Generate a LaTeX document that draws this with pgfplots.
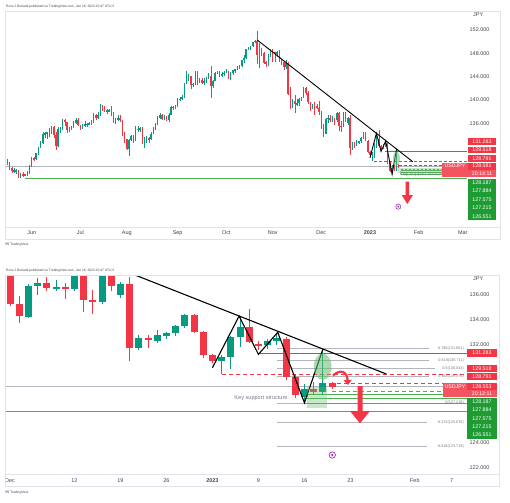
\documentclass[border=0pt]{standalone}
\usepackage{fontspec}
\setmainfont{Liberation Sans}
\usepackage{pgfplots}
\pgfplotsset{compat=1.18}
\usepackage{pgfplotstable}
\usetikzlibrary{arrows.meta}
\definecolor{tvgreen}{HTML}{089981}
\definecolor{tvred}{HTML}{F23645}
\definecolor{lblgreen}{HTML}{1E9C33}
\definecolor{framec}{HTML}{E0E3EB}
\definecolor{txt}{HTML}{434651}
\definecolor{fibgray}{HTML}{B2B5BE}
\definecolor{fibtxt}{HTML}{787B86}
\definecolor{supgreen}{HTML}{4CAF50}
\definecolor{lightg}{HTML}{66BB6A}
\definecolor{purp}{HTML}{9C27B0}

\pgfplotstableread{
i o h l c
-11 129.5 129.9 128.9 129.3
-10 129.3 129.4 128.0 128.3
-9 128.3 128.5 127.5 127.8
-8 127.8 128.4 127.5 127.9
-7 127.8 128.2 127.4 127.9
-6 127.9 128.0 126.6 126.9
-5 126.9 127.5 126.7 127.3
-4 127.3 127.6 126.8 127.1
-3 127.2 127.3 126.9 127.1
-2 127.1 127.9 126.9 127.6
-1 127.6 128.9 127.4 128.7
0 128.7 130.2 128.6 130.0
1 130.0 130.2 129.5 129.9
2 129.9 131.0 129.8 130.9
3 130.9 132.0 130.6 131.9
4 131.9 132.9 131.7 132.6
5 132.6 134.5 132.5 134.2
6 134.2 134.6 133.5 134.3
7 134.3 134.6 133.4 134.4
8 134.3 135.2 133.6 134.4
9 134.4 135.6 134.2 135.4
10 135.4 135.6 133.5 134.0
11 134.0 134.6 131.5 132.2
12 132.2 135.4 132.0 135.0
13 135.0 135.4 134.4 135.1
14 135.1 136.7 134.9 136.6
15 136.6 136.7 135.6 136.2
16 136.2 136.3 134.3 134.9
17 134.9 135.4 134.6 135.2
18 135.2 135.6 134.8 135.4
19 135.4 136.4 135.2 136.1
20 136.1 136.9 135.9 136.6
21 136.6 136.9 135.5 135.7
22 135.7 135.8 134.8 135.2
23 135.2 135.9 135.0 135.7
24 135.7 136.4 135.3 135.9
25 135.8 136.1 135.4 135.9
26 135.9 136.3 135.7 136.0
27 136.0 136.5 135.7 136.1
28 136.1 137.7 136.0 137.4
29 137.4 137.6 136.6 136.9
30 136.9 137.9 136.8 137.4
31 137.4 139.4 137.3 138.9
32 138.9 139.1 138.2 138.6
33 138.6 138.9 137.9 138.1
34 138.1 138.5 137.6 138.2
35 138.1 138.4 137.9 138.2
36 138.2 138.9 137.3 137.4
37 137.4 137.9 136.0 136.1
38 136.1 136.9 135.9 136.6
39 136.6 137.5 136.4 137.0
40 137.0 137.4 136.3 136.5
41 136.5 136.6 133.9 134.2
42 134.2 134.5 132.6 133.3
43 133.3 133.4 131.5 131.6
44 131.6 133.4 130.4 133.1
45 133.1 134.0 132.9 133.8
46 133.8 134.0 132.7 133.0
47 133.0 135.5 132.9 135.0
48 134.9 135.6 134.6 135.0
49 135.0 135.4 134.5 135.1
50 135.1 135.3 132.5 132.9
51 132.9 133.6 131.7 133.0
52 133.0 133.8 132.6 133.4
53 133.4 133.6 132.6 133.3
54 133.3 134.6 133.2 134.2
55 134.2 135.3 134.1 135.0
56 135.0 136.0 134.8 135.9
57 135.9 137.2 135.8 137.0
58 137.0 137.7 136.7 137.5
59 137.5 137.6 136.5 136.8
60 136.8 137.4 136.6 137.1
61 137.1 137.3 136.4 136.6
62 136.6 137.7 136.2 137.5
63 137.5 139.0 137.4 138.8
64 138.7 139.0 138.3 138.8
65 138.8 139.1 138.4 138.9
66 138.9 140.3 138.8 140.2
67 140.1 140.5 139.9 140.2
68 140.2 140.8 140.0 140.5
69 140.5 143.0 140.4 142.8
70 142.8 145.0 142.7 144.0
71 144.0 144.5 143.3 144.1
72 144.1 144.2 141.9 142.6
73 142.6 143.0 142.2 142.8
74 142.8 144.9 142.6 144.6
75 144.6 144.9 142.6 143.2
76 143.2 143.8 143.0 143.5
77 143.5 143.7 142.7 142.9
78 142.9 143.7 142.6 143.2
79 143.2 143.9 143.0 143.7
80 143.7 144.7 143.6 144.1
81 144.1 145.9 140.3 142.4
82 142.4 143.5 142.0 143.3
83 143.3 144.8 143.2 144.7
84 144.7 144.9 144.4 144.8
85 144.8 144.9 143.9 144.2
86 144.2 144.8 144.0 144.4
87 144.4 144.9 144.2 144.7
88 144.7 145.4 144.6 144.8
89 144.8 144.9 143.6 144.1
90 144.1 144.8 143.5 144.6
91 144.6 145.2 144.3 145.1
92 145.1 145.4 144.7 145.3
93 145.3 145.8 145.2 145.7
94 145.7 146.0 145.3 145.8
95 145.8 146.9 145.7 146.9
96 146.9 147.7 146.4 147.2
97 147.2 148.8 147.1 148.7
98 148.7 149.1 148.5 149.0
99 149.0 149.3 148.6 149.2
100 149.2 149.9 149.1 149.9
101 149.9 150.3 149.7 150.2
102 150.2 151.9 146.2 147.7
103 147.7 149.7 145.5 148.9
104 148.9 149.0 147.5 148.0
105 148.0 148.2 146.2 146.3
106 146.4 146.7 145.6 146.3
107 146.3 147.9 145.9 147.5
108 147.5 148.8 147.3 148.7
109 148.7 148.8 146.6 148.2
110 148.2 148.3 146.6 147.9
111 147.9 148.4 147.3 148.2
112 148.2 148.5 146.5 146.6
113 146.5 146.9 146.0 146.6
114 146.6 146.7 145.2 145.6
115 145.6 146.8 145.4 146.4
116 146.4 146.6 140.9 141.0
117 141.0 142.2 138.5 138.8
118 138.8 140.2 138.6 139.9
119 139.9 140.8 137.7 139.3
120 139.3 140.2 139.0 139.5
121 139.5 140.4 139.0 140.2
122 140.2 140.6 139.8 140.4
123 140.4 142.2 140.3 142.1
124 142.1 142.2 140.9 141.2
125 141.2 141.6 139.3 139.6
126 139.6 139.7 138.2 138.6
127 138.6 139.4 138.4 139.2
128 139.2 139.7 137.5 138.9
129 138.9 139.3 138.4 138.6
130 138.6 139.9 137.5 138.0
131 138.0 138.2 135.1 135.3
132 135.3 135.9 133.7 134.3
133 134.2 136.9 134.1 136.75
134 136.75 137.35 136.0 137.0
135 137.0 137.5 136.3 136.6
136 136.55 137.2 136.3 136.65
137 136.65 136.95 135.7 136.55
138 136.5 137.9 136.3 137.75
139 137.75 137.9 134.65 135.6
140 135.6 136.4 134.5 135.45
141 135.45 137.9 135.3 137.75
142 137.75 137.9 136.3 136.7
143 136.0 137.1 135.8 136.9
144 136.9 137.5 130.6 131.7
145 131.7 132.75 131.5 132.5
146 132.5 132.75 131.7 132.35
147 132.3 133.15 132.1 132.75
148 132.7 133.0 132.4 132.9
149 132.9 133.6 132.7 133.45
150 133.5 134.5 133.3 134.4
151 134.4 134.5 132.9 133.0
152 133.0 133.1 130.9 131.1
153 131.1 131.2 130.5 130.6
154 130.6 131.1 129.6 131.0
155 131.0 132.7 130.0 132.6
156 132.6 134.25 131.8 133.4
157 133.4 134.9 132.1 132.15
158 132.0 132.3 131.5 131.9
159 131.9 132.4 131.6 132.25
160 132.25 132.9 131.9 132.5
161 132.45 132.6 129.1 129.3
162 129.3 129.5 127.6 127.9
163 127.7 128.8 127.24 128.4
164 128.4 128.9 127.9 128.1
165 128.1 131.55 127.9 128.85
166 128.85 128.95 128.4 128.55
}\data

\tikzset{
  tl/.style={font=\fontsize{5.5}{6}\selectfont, text=txt},
  bx/.style={font=\fontsize{5.3}{6}\selectfont, text=white},
  fibl/.style={font=\fontsize{3.8}{4.5}\selectfont, text=fibtxt, anchor=east, inner sep=0pt},
}
\pgfplotsset{
  candle/.style={only marks, mark=*, mark options={draw opacity=0, fill opacity=0, scale=0.01}, forget plot},
}

\begin{document}
\begin{tikzpicture}
\useasboundingbox (0,0) rectangle (510bp,-503bp);
\fill[white] (0,0) rectangle (510bp,-503bp);

% ================= TOP CHART =================
\begin{axis}[
  at={(5bp,-227bp)}, anchor=south west, scale only axis,
  width=494bp, height=215.3bp,
  xmin=-12.08, xmax=211.35, ymin=118.23, ymax=155.14,
  axis line style={draw=none}, major tick length=0pt,
  xtick={0,22,43,66,88,109,131,153,175,195},
  xticklabels={Jun,Jul,Aug,Sep,Oct,Nov,Dec,\textbf{2023},Feb,Mar},
  ytick={136,140,144,148,152},
  yticklabels={136.000,140.000,144.000,148.000,152.000},
  yticklabel pos=right,
  yticklabel style={anchor=east, xshift=-6bp},
  xticklabel style={anchor=base, yshift=-7bp},
  tick label style={font=\fontsize{5.5}{6}\selectfont, text=txt},
  clip=true,
]
% current price line
\addplot[fibgray, line width=0.4bp] coordinates {(-12.08,128.581) (185.5,128.581)};
% support
\addplot[supgreen, line width=0.9bp] coordinates {(-3,126.551) (197,126.551)};
% levels
\addplot[tvred, line width=0.7bp] coordinates {(160,131.283) (197,131.283)};
\addplot[tvred, line width=0.7bp, dash pattern=on 3bp off 2bp] coordinates {(154.8,129.518) (197,129.518)};
\addplot[tvred, line width=0.7bp, dash pattern=on 3bp off 2bp] coordinates {(166,128.791) (185.5,128.791)};
\addplot[supgreen, line width=0.6bp, dash pattern=on 2bp off 2bp] coordinates {(167,128.187) (197,128.187)};
\addplot[supgreen, line width=0.6bp] coordinates {(167,127.884) (197,127.884)};
\addplot[supgreen, line width=0.6bp] coordinates {(167,127.575) (197,127.575)};
\addplot[supgreen, line width=0.6bp] coordinates {(167,127.215) (197,127.215)};
% candles: wicks
\addplot[candle,
  restrict expr to domain={\thisrow{c}-\thisrow{o}}{0:1000},
  error bars/.cd, y dir=both, y explicit, error mark=none,
  error bar style={line width=0.5bp, draw=tvgreen, solid}]
  table[x=i, y expr={(\thisrow{h}+\thisrow{l})/2}, y error expr={(\thisrow{h}-\thisrow{l})/2}] {\data};
\addplot[candle,
  restrict expr to domain={\thisrow{o}-\thisrow{c}}{0.00001:1000},
  error bars/.cd, y dir=both, y explicit, error mark=none,
  error bar style={line width=0.5bp, draw=tvred, solid}]
  table[x=i, y expr={(\thisrow{h}+\thisrow{l})/2}, y error expr={(\thisrow{h}-\thisrow{l})/2}] {\data};
% candles: bodies
\addplot[candle,
  restrict expr to domain={\thisrow{c}-\thisrow{o}}{0:1000},
  error bars/.cd, y dir=both, y explicit, error mark=none,
  error bar style={line width=1.5bp, draw=tvgreen, solid}]
  table[x=i, y expr={(\thisrow{o}+\thisrow{c})/2}, y error expr={max(abs(\thisrow{c}-\thisrow{o})/2,0.1)}] {\data};
\addplot[candle,
  restrict expr to domain={\thisrow{o}-\thisrow{c}}{0.00001:1000},
  error bars/.cd, y dir=both, y explicit, error mark=none,
  error bar style={line width=1.5bp, draw=tvred, solid}]
  table[x=i, y expr={(\thisrow{o}+\thisrow{c})/2}, y error expr={max(abs(\thisrow{c}-\thisrow{o})/2,0.1)}] {\data};
% trend line and zigzag
\addplot[black, line width=0.9bp] coordinates {(102,150.29) (172.3,129.43)};
\addplot[black, line width=0.9bp] coordinates {(153,130.09) (155.9,134.29) (158,131.18) (160.1,132.97) (163,127.24) (165,131.59)};
\end{axis}

% ================= BOTTOM CHART =================
\begin{axis}[
  at={(5bp,-474bp)}, anchor=south west, scale only axis,
  width=494bp, height=199bp,
  xmin=-0.543, xmax=53.15, ymin=121.45, ymax=137.63,
  axis line style={draw=none}, major tick length=0pt,
  xtick={0,7,12,17,22,27,32,37,44,48},
  xticklabels={Dec,12,19,26,\textbf{2023},9,16,23,Feb,7},
  ytick={122,124,132,134,136},
  yticklabels={122.000,124.000,132.000,134.000,136.000},
  yticklabel pos=right,
  yticklabel style={anchor=east, xshift=-6bp},
  xticklabel style={anchor=base, yshift=-8bp},
  tick label style={font=\fontsize{5.5}{6}\selectfont, text=txt},
  clip=true,
]
% fib levels
\addplot[fibgray, line width=0.6bp] coordinates {(29,131.661) (45.5,131.661)};
\addplot[fibgray, line width=0.6bp] coordinates {(29,130.711) (45.5,130.711)};
\addplot[fibgray, line width=0.6bp] coordinates {(29,130.044) (46.2,130.044)};
\addplot[fibgray, line width=0.6bp] coordinates {(29,129.376) (45.5,129.376)};
\addplot[fibgray, line width=0.6bp] coordinates {(29,127.218) (45.8,127.218)};
\addplot[fibgray, line width=0.6bp] coordinates {(29,125.676) (45.3,125.676)};
\addplot[fibgray, line width=0.6bp] coordinates {(29,123.719) (45.3,123.719)};
% current price line
\addplot[fibgray, line width=0.4bp] coordinates {(-0.6,128.553) (47.07,128.553)};
% support and levels
\addplot[supgreen, line width=1bp] coordinates {(-0.6,126.551) (49.7,126.551)};
\addplot[tvred, line width=0.9bp] coordinates {(27,131.283) (49.7,131.283)};
\addplot[tvred, line width=0.9bp, dash pattern=on 4bp off 3bp] coordinates {(23,129.518) (49.7,129.518)};
\addplot[tvred, line width=0.9bp, dash pattern=on 4bp off 3bp] coordinates {(34.8,128.791) (49.7,128.791)};
\addplot[supgreen, line width=0.9bp, dash pattern=on 4bp off 3bp] coordinates {(35,128.187) (47.1,128.187)};
\addplot[supgreen, line width=0.9bp] coordinates {(32,127.884) (49.7,127.884)};
\addplot[supgreen, line width=0.9bp] coordinates {(32,127.575) (49.7,127.575)};
\addplot[supgreen, line width=0.9bp] coordinates {(32,127.215) (49.7,127.215)};
% candles: wicks
\addplot[candle,
  restrict expr to domain={\thisrow{c}-\thisrow{o}}{0:1000},
  error bars/.cd, y dir=both, y explicit, error mark=none,
  error bar style={line width=0.8bp, draw=tvgreen, solid}]
  table[x expr={\thisrow{i}-131}, y expr={(\thisrow{h}+\thisrow{l})/2}, y error expr={(\thisrow{h}-\thisrow{l})/2}] {\data};
\addplot[candle,
  restrict expr to domain={\thisrow{o}-\thisrow{c}}{0.00001:1000},
  error bars/.cd, y dir=both, y explicit, error mark=none,
  error bar style={line width=0.8bp, draw=tvred, solid}]
  table[x expr={\thisrow{i}-131}, y expr={(\thisrow{h}+\thisrow{l})/2}, y error expr={(\thisrow{h}-\thisrow{l})/2}] {\data};
% candles: bodies
\addplot[candle,
  restrict expr to domain={\thisrow{c}-\thisrow{o}}{0:1000},
  error bars/.cd, y dir=both, y explicit, error mark=none,
  error bar style={line width=7bp, draw=tvgreen, solid}]
  table[x expr={\thisrow{i}-131}, y expr={(\thisrow{o}+\thisrow{c})/2}, y error expr={max(abs(\thisrow{c}-\thisrow{o})/2,0.04)}] {\data};
\addplot[candle,
  restrict expr to domain={\thisrow{o}-\thisrow{c}}{0.00001:1000},
  error bars/.cd, y dir=both, y explicit, error mark=none,
  error bar style={line width=7bp, draw=tvred, solid}]
  table[x expr={\thisrow{i}-131}, y expr={(\thisrow{o}+\thisrow{c})/2}, y error expr={max(abs(\thisrow{c}-\thisrow{o})/2,0.04)}] {\data};
% trend line and zigzag
\addplot[black, line width=1.1bp] coordinates {(12.6,137.92) (40.9,129.58)};
\addplot[black, line width=1.1bp] coordinates {(22,130.09) (24.9,134.29) (27,131.18) (29.1,132.97) (32,127.24) (34,131.59)};
\end{axis}

% ================= OVERLAY (pixel coordinates) =================
\begin{scope}[x=1bp, y=-1bp]
% frames
\draw[framec, line width=0.6bp] (5,11.7) rectangle (500,239);
\draw[framec, line width=0.6bp] (5,227) -- (500,227);
\draw[framec, line width=0.6bp] (5,275) rectangle (499,486);
\draw[framec, line width=0.6bp] (5,474) -- (499,474);
% headers / footers
\node[anchor=west, inner sep=0pt, font=\fontsize{3.3}{4}\selectfont, text=txt] at (6,7) {Ross J Burland published on TradingView.com, Jan 18, 2023 20:47 UTC-5};
\node[anchor=west, inner sep=0pt, font=\fontsize{3.3}{4}\selectfont, text=txt] at (6,271) {Ross J Burland published on TradingView.com, Jan 18, 2023 20:47 UTC-5};
\node[anchor=west, inner sep=0pt, font=\fontsize{3.3}{4}\selectfont, text=txt] at (5,245) {\textbf{TV} TradingView};
\node[anchor=west, inner sep=0pt, font=\fontsize{3.3}{4}\selectfont, text=txt] at (5,493) {\textbf{TV} TradingView};
% JPY
\node[tl, anchor=west, inner sep=0pt] at (473,15) {JPY};
\node[tl, anchor=west, inner sep=0pt] at (473,279) {JPY};

% ---- top annotations ----
\fill[lightg, opacity=0.35] (398,168.3) rectangle (450,173.3);
\fill[lightg, opacity=0.5] (396.5,158.5) ellipse [x radius=3.5, y radius=7];
\node[font=\fontsize{5}{6}\selectfont, text=fibtxt, inner sep=0pt] at (423.5,174.3) {Key support structure};
\fill[tvred] (405.5,181.7) -- (409,181.7) -- (409,195) -- (413,195) -- (407.3,204) -- (401.7,195) -- (405.5,195) -- cycle;
\draw[purp, line width=0.5bp, fill=purp!10] (398.3,206.7) circle (2.6);
\fill[purp] (398.3,206.7) circle (0.9);
% top labels
\fill[tvred] (468,137.7) rectangle (496,145);
\node[bx] at (482,141.35) {131.283};
\fill[tvred] (468,146.7) rectangle (496,153.3);
\node[bx] at (482,150) {129.518};
\fill[tvred] (468,155) rectangle (496,161.7);
\node[bx] at (482,158.35) {128.791};
\fill[tvred!85] (441.7,162.7) rectangle (496,176.7);
\fill[tvred] (468,162.7) rectangle (496,169.5);
\node[bx] at (455,166) {USDJPY};
\node[bx] at (482,166) {128.581};
\node[bx] at (482,173.2) {20:14:11};
\fill[lblgreen] (468,178.5) rectangle (496,220.3);
\node[bx] at (482,182.3) {128.187};
\node[bx] at (482,191) {127.884};
\node[bx] at (482,199.3) {127.575};
\node[bx] at (482,207.7) {127.215};
\node[bx] at (482,216.3) {126.551};

% ---- bottom annotations ----
\fill[lightg, opacity=0.35] (306.7,386.7) rectangle (326.7,408.3);
\fill[lightg, opacity=0.55] (322.7,366.7) ellipse [x radius=8.8, y radius=13.3];
\node[font=\fontsize{5.6}{6.5}\selectfont, text=fibtxt, inner sep=0pt] at (261,397.7) {Key support structure};
% fib labels
\node[fibl] at (464,348.4) {0.786(131.661)};
\node[fibl] at (464,360.1) {0.618(130.711)};
\node[fibl] at (464,368.3) {0.5(130.044)};
\node[fibl] at (464,376.5) {0.382(129.376)};
\node[fibl] at (464,403) {0(127.218)};
\node[fibl] at (464,422.2) {-0.272(125.676)};
\node[fibl] at (464,446.1) {-0.618(123.719)};
% curved arrow
\draw[tvred, line width=2.2bp, -{Triangle[length=5bp,width=8bp]}] (333,375.5) .. controls (340,369) and (347,371) .. (348,385);
% big down arrow
\fill[tvred] (357.5,386) -- (362.5,386) -- (362.5,411) -- (370,411) -- (360,423.3) -- (350,411) -- (357.5,411) -- cycle;
% icon
\draw[purp, line width=0.6bp, fill=purp!10] (332.3,455) circle (3.2);
\fill[purp] (332.3,455) circle (1.1);
% bottom labels
\fill[tvred] (467,349.3) rectangle (497,356.7);
\node[bx] at (482,353) {131.283};
\fill[tvred] (467,365) rectangle (497,372.3);
\node[bx] at (482,368.7) {129.518};
\fill[tvred] (467,373.3) rectangle (497,380);
\node[bx] at (482,376.7) {128.791};
\fill[tvred!85] (443,383.3) rectangle (497,397);
\fill[tvred] (467,383.3) rectangle (497,390);
\node[bx] at (455,386.7) {USDJPY};
\node[bx] at (482,386.7) {128.553};
\node[bx] at (482,393.5) {20:12:11};
\fill[lblgreen] (467,398.3) rectangle (497,438.8);
\node[bx] at (482,401.7) {128.187};
\node[bx] at (482,410) {127.884};
\node[bx] at (482,418.3) {127.575};
\node[bx] at (482,426.7) {127.215};
\node[bx] at (482,435) {126.551};
\end{scope}
\end{tikzpicture}
\end{document}
